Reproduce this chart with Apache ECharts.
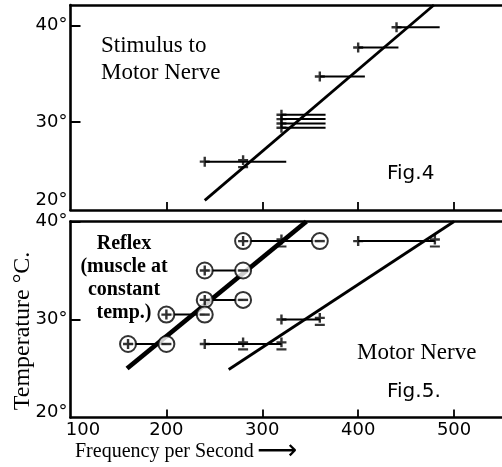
<!DOCTYPE html>
<html><head><meta charset="utf-8">
<script src="https://cdn.jsdelivr.net/npm/echarts@6/dist/echarts.min.js"></script>
<style>html,body{margin:0;padding:0;background:#fff}#c{width:502px;height:467px}</style>
</head><body><div id="c"></div>
<script>
// ---- Fig.4: Stimulus to motor nerve ----
const fig4Temp = [25.9, 29.4, 29.85, 30.3, 30.75, 34.7, 37.7, 39.8];
const fig4Plus = [240, 320, 320, 320, 320, 360, 400, 440];
const fig4End  = [325, 366, 366, 366, 366, 407, 442, 485];
const fig4PM   = [[280, 25.9]];
const fig4Fit  = [[240, 21.9], [479, 42.1]];

// ---- Fig.5: Reflex (circled markers) ----
const reflexTemp  = [27.5, 30.5, 32, 35, 38];
const reflexPlus  = [160, 200, 240, 240, 280];
const reflexMinus = [200, 240, 280, 280, 360];
const reflexPM    = [[320, 38]];
const reflexFit   = [[159, 25], [346, 40]];

// ---- Fig.5: Motor nerve ----
const motorTemp = [27.5, 30, 38];
const motorPlus = [240, 320, 400];
const motorEnd  = [320, 360, 480];
const motorPM   = [[280, 27.5], [320, 27.5], [360, 30], [480, 38]];
const motorFit  = [[265, 24.9], [500, 40]];

// ---- ticks / labels ----
const xTickValues  = [200, 300, 400, 500];
const xLabelValues = [113, 200, 300, 400, 500];
const xLabelTexts  = ['100', '200', '300', '400', '500'];
const y4TickValues = [30, 40];
const y4LabelValues = [21.9, 30, 40];
const y5TickValues = [30, 40];
const y5LabelValues = [20.5, 30, 40];
const yLabelTexts = ['20°', '30°', '40°'];

const PLUS  = 'path://M3.8,0h2.4v3.8h3.8v2.4h-3.8v3.8h-2.4v-3.8h-3.8v-2.4h3.8z';
const MINUS = 'path://M0,0h10v2.2h-10z';
const PM    = 'path://M3.8,0h2.4v3.8h3.8v2.4h-3.8v3.8h-2.4v-3.8h-3.8v-2.4h3.8z M0,11h10v2.2h-10z';

const chart = echarts.init(document.getElementById('c'), null, {renderer: 'canvas'});

function segRender(params, api) {
  const p1 = api.coord([api.value(0), api.value(2)]);
  const p2 = api.coord([api.value(1), api.value(2)]);
  return {type: 'line', shape: {x1: p1[0], y1: p1[1], x2: p2[0], y2: p2[1]},
          style: {stroke: '#000', lineWidth: 2}};
}
const tickFont = {fontFamily: 'DejaVu Sans', fontSize: 18, color: '#000'};
const axisLineStyle = {color: '#000', width: 2.6};
function xAxisCfg(gi, showLabels) {
  return {
    type: 'value', gridIndex: gi, min: 100, max: 550, position: 'bottom',
    splitLine: {show: false},
    axisLine: {show: true, onZero: false, lineStyle: axisLineStyle},
    axisTick: {show: true, inside: true, length: 8, customValues: xTickValues,
               lineStyle: {color: '#000', width: 1.8}},
    axisLabel: {show: showLabels, customValues: xLabelValues, margin: 4, ...tickFont,
                formatter: v => xLabelTexts[xLabelValues.indexOf(v)]}
  };
}
function topBorderCfg(gi) {
  return {
    type: 'value', gridIndex: gi, min: 100, max: 550, position: 'top',
    splitLine: {show: false},
    axisLine: {show: true, onZero: false, lineStyle: axisLineStyle},
    axisTick: {show: false}, axisLabel: {show: false}
  };
}
function yAxisCfg(gi, min, max, ticks, labels) {
  return {
    type: 'value', gridIndex: gi, min: min, max: max,
    splitLine: {show: false},
    axisLine: {show: true, onZero: false, lineStyle: axisLineStyle},
    axisTick: {show: true, inside: true, length: 10, customValues: ticks,
               lineStyle: {color: '#000', width: 2}},
    axisLabel: {show: true, customValues: labels, margin: 3, ...tickFont,
                formatter: v => yLabelTexts[labels.indexOf(v)]}
  };
}
const black = '#000';
function pts(xs, ys) { return xs.map((x, i) => [x, ys[i]]); }

const series = [
  // Fig.4
  {type: 'custom', xAxisIndex: 0, yAxisIndex: 0, renderItem: segRender,
   data: fig4Plus.map((x, i) => [x, fig4End[i], fig4Temp[i]]), silent: true},
  {type: 'line', xAxisIndex: 0, yAxisIndex: 0, data: fig4Fit, symbol: 'none',
   lineStyle: {color: black, width: 2.8}, silent: true},
  {type: 'scatter', xAxisIndex: 0, yAxisIndex: 0, data: pts(fig4Plus, fig4Temp),
   symbol: PLUS, symbolSize: 10, itemStyle: {color: black}, silent: true},
  {type: 'scatter', xAxisIndex: 0, yAxisIndex: 0, data: fig4PM,
   symbol: PM, symbolSize: [10, 13], itemStyle: {color: black}, silent: true},
  // Fig.5 motor nerve
  {type: 'custom', xAxisIndex: 1, yAxisIndex: 1, renderItem: segRender,
   data: motorPlus.map((x, i) => [x, motorEnd[i], motorTemp[i]]), silent: true},
  {type: 'line', xAxisIndex: 1, yAxisIndex: 1, data: motorFit, symbol: 'none',
   lineStyle: {color: black, width: 2.8}, silent: true},
  {type: 'scatter', xAxisIndex: 1, yAxisIndex: 1, data: pts(motorPlus, motorTemp),
   symbol: PLUS, symbolSize: 10, itemStyle: {color: black}, silent: true},
  {type: 'scatter', xAxisIndex: 1, yAxisIndex: 1, data: motorPM,
   symbol: PM, symbolSize: [10, 13], itemStyle: {color: black}, silent: true},
  // Fig.5 reflex
  {type: 'custom', xAxisIndex: 1, yAxisIndex: 1, renderItem: segRender,
   data: reflexPlus.map((x, i) => [x, reflexMinus[i], reflexTemp[i]]), silent: true},
  {type: 'line', xAxisIndex: 1, yAxisIndex: 1, data: reflexFit, symbol: 'none',
   lineStyle: {color: black, width: 4.8}, silent: true, z: 3},
  {type: 'scatter', xAxisIndex: 1, yAxisIndex: 1, data: reflexPM,
   symbol: PM, symbolSize: [10, 13], itemStyle: {color: black}, silent: true},
  {type: 'scatter', xAxisIndex: 1, yAxisIndex: 1,
   data: pts(reflexPlus, reflexTemp).concat(pts(reflexMinus, reflexTemp)),
   symbol: 'circle', symbolSize: 16, z: 4,
   itemStyle: {color: '#fff', borderColor: black, borderWidth: 2}, silent: true},
  {type: 'scatter', xAxisIndex: 1, yAxisIndex: 1, data: pts(reflexPlus, reflexTemp),
   symbol: PLUS, symbolSize: 10, z: 5, itemStyle: {color: black}, silent: true},
  {type: 'scatter', xAxisIndex: 1, yAxisIndex: 1, data: pts(reflexMinus, reflexTemp),
   symbol: MINUS, symbolSize: [10, 2.4], z: 5, itemStyle: {color: black}, silent: true}
];

const serif = '"Liberation Serif", "DejaVu Serif", serif';
const sans = '"DejaVu Sans", sans-serif';
function txt(text, x, y, font, align, extra) {
  return Object.assign({type: 'text', x: x, y: y, silent: true,
    style: {text: text, font: font, fill: '#000', textAlign: align || 'left', textVerticalAlign: 'middle'}}, extra || {});
}

chart.setOption({
  animation: false,
  backgroundColor: '#fff',
  grid: [
    {left: 70.5, top: 5, width: 435, height: 205},
    {left: 70.5, top: 221.5, width: 435, height: 196}
  ],
  xAxis: [xAxisCfg(0, false), xAxisCfg(1, true), topBorderCfg(0), topBorderCfg(1)],
  yAxis: [yAxisCfg(0, 20.9, 42.1, y4TickValues, y4LabelValues),
          yAxisCfg(1, 20, 40, y5TickValues, y5LabelValues)],
  series: series,
  graphic: [
    txt('Stimulus to', 101, 46, '23px ' + serif),
    txt('Motor Nerve', 101, 73, '23px ' + serif),
    txt('Fig.4', 387, 174, '20px ' + sans),
    txt('Reflex', 124, 244, 'bold 20px ' + serif, 'center'),
    txt('(muscle at', 124, 267, 'bold 20px ' + serif, 'center'),
    txt('constant', 124, 290, 'bold 20px ' + serif, 'center'),
    txt('temp.)', 124, 313, 'bold 20px ' + serif, 'center'),
    txt('Motor Nerve', 357, 353, '23px ' + serif),
    txt('Fig.5.', 387, 392, '20px ' + sans),
    txt('Temperature °C.', 23, 331, '24px ' + serif, 'center', {rotation: Math.PI / 2}),
    txt('Frequency per Second', 75, 452, '20px ' + serif),
    txt('\u27F6', 257, 452, '28px ' + sans)
  ]
});
</script></body></html>
